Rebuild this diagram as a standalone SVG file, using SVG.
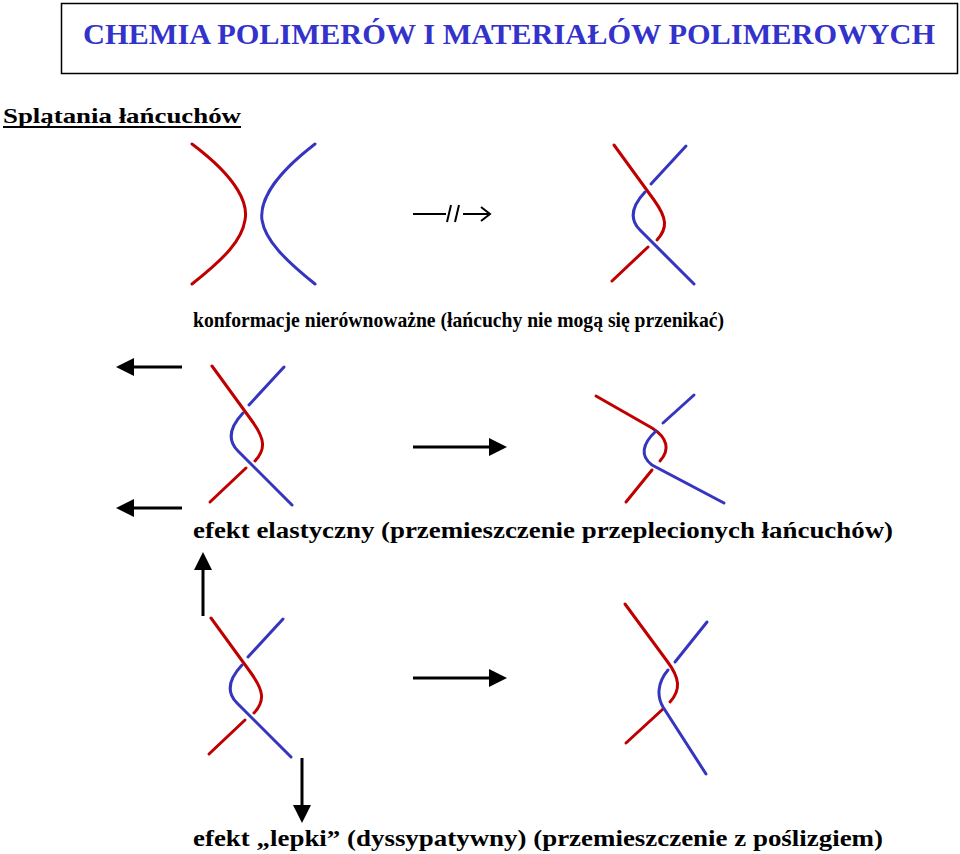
<svg xmlns="http://www.w3.org/2000/svg" width="960" height="854" viewBox="0 0 960 854">
<defs>
<style>
.r{fill:none;stroke:#c00000;stroke-width:3;stroke-linecap:round}
.b{fill:none;stroke:#3535c0;stroke-width:3;stroke-linecap:round}
.a{stroke:#000;stroke-width:3}
.t{font-family:"Liberation Serif",serif;fill:#000;font-weight:bold}
</style>
<marker id="h" markerWidth="6" markerHeight="6" refX="1" refY="3" orient="auto" markerUnits="strokeWidth"><path d="M0,0 L6,3 L0,6 z" fill="#000"/></marker>
<g id="knot">
<path class="r" d="M0,0 L40,55 C53,73 54,83 43,95"/>
<path class="r" d="M34,102 L-2,136"/>
<path class="b" d="M72,1 L37,39"/>
<path class="b" d="M31,47 C16,63 16,75 26,85 L80,139"/>
</g>
</defs>
<g id="title">
<rect x="61.5" y="3.5" width="896" height="70" fill="#fff" stroke="#000" stroke-width="1.5"/>
<text x="509" y="44" text-anchor="middle" font-family="Liberation Serif,serif" font-weight="bold" font-size="29" fill="#3333cc" textLength="852" lengthAdjust="spacingAndGlyphs">CHEMIA POLIMERÓW I MATERIAŁÓW POLIMEROWYCH</text>
</g>
<g id="subtitle">
<text class="t" x="3" y="123" font-size="22" textLength="238" lengthAdjust="spacingAndGlyphs">Splątania łańcuchów</text>
<line x1="3" y1="127" x2="241" y2="127" stroke="#000" stroke-width="1.8"/>
</g>
<g id="sep-chains">
<path class="r" d="M192,144 C240,180 248,205 245,220 C242,240 225,258 192,284"/>
<path class="b" d="M315,144 C268,180 260,205 262,220 C265,240 285,260 315,284"/>
</g>
<g id="knot1"><use href="#knot" transform="translate(614,145)"/></g>
<g id="knot2"><use href="#knot" transform="translate(212,366)"/></g>
<g id="knot3"><use href="#knot" transform="translate(211,618)"/></g>
<g id="knot2b">
<path class="r" d="M596,396 L652,428 C668,438 670,450 660,461"/>
<path class="r" d="M652,470 L626,502"/>
<path class="b" d="M694,395 L663,423"/>
<path class="b" d="M656,431 C642,444 640,456 652,465 L724,503"/>
</g>
<g id="knot3b">
<path class="r" d="M625,604 L667,661 C680,678 681,690 670,702"/>
<path class="r" d="M663,709 L626,743"/>
<path class="b" d="M707,622 L675,662"/>
<path class="b" d="M668,670 C657,683 657,697 663,707 L706,774"/>
</g>
<g id="connectors">
<line x1="413" y1="214" x2="446" y2="214" stroke="#000" stroke-width="2"/>
<line x1="447" y1="222" x2="451" y2="205" stroke="#000" stroke-width="2"/>
<line x1="455" y1="222" x2="459" y2="205" stroke="#000" stroke-width="2"/>
<line x1="463" y1="214" x2="489" y2="214" stroke="#000" stroke-width="2"/>
<path d="M481,207 L490,214 L481,221" fill="none" stroke="#000" stroke-width="2"/>
<line class="a" x1="182" y1="367" x2="131" y2="367" marker-end="url(#h)"/>
<line class="a" x1="182" y1="508" x2="131" y2="508" marker-end="url(#h)"/>
<line class="a" x1="413" y1="447" x2="492" y2="447" marker-end="url(#h)"/>
<line class="a" x1="413" y1="678" x2="492" y2="678" marker-end="url(#h)"/>
<line class="a" x1="203" y1="616" x2="203" y2="567" marker-end="url(#h)"/>
<line class="a" x1="302" y1="758" x2="302" y2="808" marker-end="url(#h)"/>
</g>
<g id="labels">
<text class="t" x="193" y="327" font-size="22" textLength="531" lengthAdjust="spacingAndGlyphs">konformacje nierównoważne (łańcuchy nie mogą się przenikać)</text>
<text class="t" x="193" y="538" font-size="24" textLength="700" lengthAdjust="spacingAndGlyphs">efekt elastyczny (przemieszczenie przeplecionych łańcuchów)</text>
<text class="t" x="193" y="846" font-size="24" textLength="690" lengthAdjust="spacingAndGlyphs">efekt „lepki” (dyssypatywny) (przemieszczenie z poślizgiem)</text>
</g>
</svg>
